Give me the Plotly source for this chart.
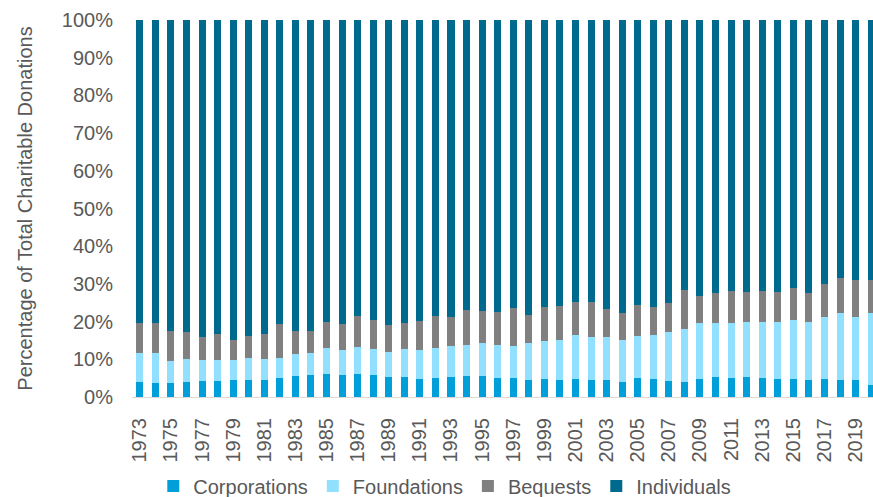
import plotly.graph_objects as go

years = [str(y) for y in range(1973, 2021)]

corporations = [3.9, 3.8, 3.8, 4.1, 4.2, 4.2, 4.6, 4.4, 4.6, 5.1, 5.6, 5.8,
                6.2, 5.8, 6.1, 5.8, 5.4, 5.4, 4.9, 5.1, 5.4, 5.6, 5.7, 5.1,
                5.1, 4.6, 4.9, 4.5, 4.9, 4.4, 4.4, 4.1, 5.0, 4.7, 4.2, 3.9,
                4.9, 5.3, 5.0, 5.4, 5.1, 4.9, 4.7, 4.6, 4.9, 4.5, 4.5, 3.3]
foundations = [7.9, 8.0, 5.8, 5.9, 5.7, 5.7, 5.2, 5.9, 5.6, 5.3, 5.7, 5.8,
               6.9, 6.6, 7.2, 7.0, 6.6, 7.3, 7.6, 7.8, 8.1, 8.1, 8.6, 8.7,
               8.5, 9.6, 10.0, 10.7, 11.6, 11.6, 11.4, 11.0, 11.1, 11.7, 13.0, 14.1,
               14.8, 14.2, 14.7, 14.5, 14.7, 14.9, 15.7, 15.2, 16.3, 17.8, 16.8, 19.0]
bequests = [7.8, 7.7, 7.9, 7.2, 6.0, 6.8, 5.2, 5.9, 6.5, 8.9, 6.2, 5.9,
            6.8, 6.9, 8.1, 7.5, 7.1, 6.9, 7.7, 8.6, 7.7, 9.3, 8.5, 8.7,
            10.0, 7.6, 8.9, 8.9, 8.7, 9.2, 7.5, 7.2, 8.3, 7.5, 7.7, 10.4,
            7.1, 8.1, 8.4, 8.0, 8.3, 8.0, 8.5, 7.8, 8.8, 9.3, 9.7, 8.7]
individuals = [80.4, 80.5, 82.5, 82.8, 84.1, 83.3, 85.0, 83.8, 83.3, 80.7, 82.5, 82.5,
               80.1, 80.7, 78.6, 79.7, 80.9, 80.4, 79.8, 78.5, 78.8, 77.0, 77.2, 77.5,
               76.4, 78.2, 76.2, 75.9, 74.8, 74.8, 76.7, 77.7, 75.6, 76.1, 75.1, 71.6,
               73.2, 72.4, 71.9, 72.1, 71.9, 72.2, 71.1, 72.4, 70.0, 68.4, 69.0, 69.0]

y_ticks = [0, 10, 20, 30, 40, 50, 60, 70, 80, 90, 100]
y_tick_labels = [f"{v}%" for v in y_ticks]
x_tick_labels = years[::2]

series = [
    ("Corporations", corporations, "#009FDA"),
    ("Foundations", foundations, "#92E0FF"),
    ("Bequests", bequests, "#808080"),
    ("Individuals", individuals, "#006A8E"),
]

fig = go.Figure()
for name, vals, color in series:
    fig.add_trace(go.Bar(x=years, y=vals, name=name, marker_color=color,
                         marker_line_width=0))

font_family = "Liberation Sans, Arial, sans-serif"
fig.update_layout(
    width=873, height=497,
    barmode="stack", bargap=0.55,
    plot_bgcolor="white", paper_bgcolor="white",
    margin=dict(l=132, r=0, t=20, b=100),
    font=dict(family=font_family, size=20, color="#595959"),
    showlegend=True,
    legend=dict(orientation="h", xref="container", yref="container",
                x=0.5095, xanchor="center", y=0.022, yanchor="middle",
                font=dict(size=20, color="#595959"),
                itemwidth=30, tracegroupgap=0, traceorder="normal"),
    xaxis=dict(type="category", range=[-0.5, 47.12], automargin=False,
               tickmode="array", tickvals=x_tick_labels, ticktext=x_tick_labels,
               tickangle=-90, showgrid=False, showline=True,
               linecolor="#d9d9d9", linewidth=1, ticks="",
               ticklabelstandoff=12,
               tickfont=dict(size=20, color="#595959")),
    yaxis=dict(range=[0, 100], tickmode="array", tickvals=y_ticks,
               ticktext=y_tick_labels, showgrid=False, showline=False,
               zeroline=False, ticks="", ticklabelstandoff=18, automargin=False,
               tickfont=dict(size=20, color="#595959"),
               title=dict(text="Percentage of Total Charitable Donations",
                          font=dict(size=20, color="#595959"), standoff=23)),
)

fig.write_html(
    "out.html",
    config={"displayModeBar": False},
    post_script="document.body.style.margin='0';document.body.style.overflow='hidden';",
)
